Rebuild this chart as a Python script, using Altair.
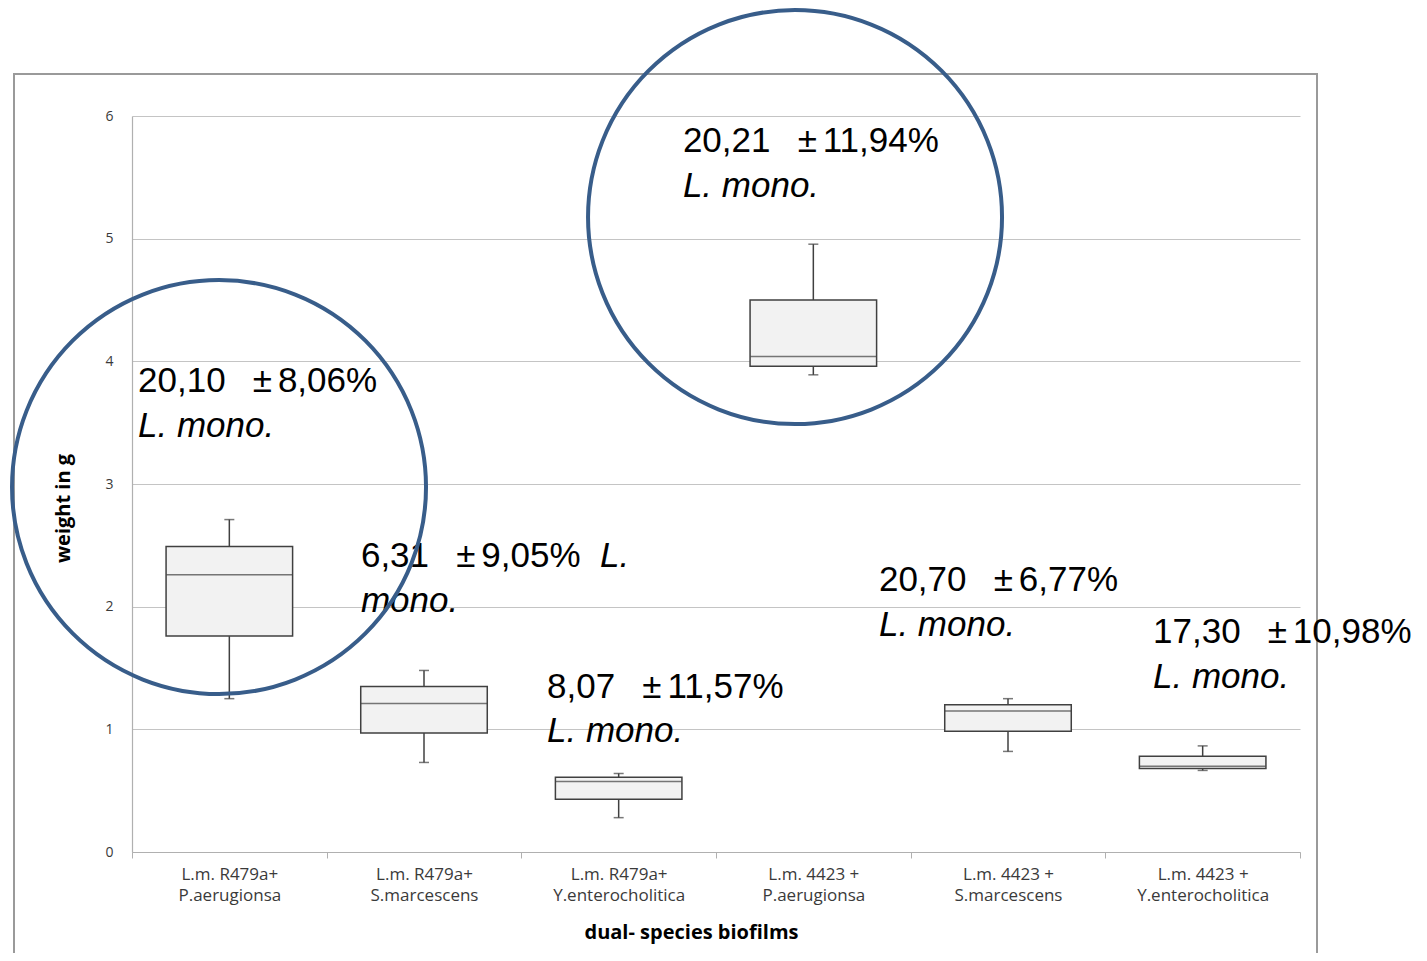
import altair as alt
import pandas as pd

# ---- data ----
categories = [
    "L.m. R479a+\nP.aerugionsa",
    "L.m. R479a+\nS.marcescens",
    "L.m. R479a+\nY.enterocholitica",
    "L.m. 4423 +\nP.aerugionsa",
    "L.m. 4423 +\nS.marcescens",
    "L.m. 4423 +\nY.enterocholitica",
]
whisker_low = [1.25, 0.73, 0.28, 3.89, 0.82, 0.665]
q1 = [1.76, 0.97, 0.43, 3.96, 0.985, 0.68]
median = [2.26, 1.21, 0.575, 4.04, 1.15, 0.70]
q3 = [2.49, 1.35, 0.61, 4.50, 1.20, 0.78]
whisker_high = [2.71, 1.48, 0.64, 4.955, 1.25, 0.865]

PM = "\u00a0\u2002±\u2006"  # wide "±" spacing as in the reference
ann_text = ["20,10" + PM + "8,06%", "L. mono.",
            "6,31" + PM + "9,05%", "L.", "mono.",
            "8,07" + PM + "11,57%", "L. mono.",
            "20,21" + PM + "11,94%", "L. mono.",
            "20,70" + PM + "6,77%", "L. mono.",
            "17,30" + PM + "10,98%", "L. mono."]
ann_x = [0.031, 0.031,
         1.176, 2.404, 1.176,
         2.132, 2.132,
         2.830, 2.830,
         3.837, 3.837,
         5.245, 5.245]
ann_y = [3.84, 3.47,
         2.41, 2.41, 2.05,
         1.345, 0.986,
         5.80, 5.43,
         2.217, 1.85,
         1.79, 1.43]
ann_style = ["normal", "italic",
             "normal", "italic", "italic",
             "normal", "italic",
             "normal", "italic",
             "normal", "italic",
             "normal", "italic"]

circle_x = [0.447, 3.406]
circle_y = [2.975, 5.176]

box_df = pd.DataFrame({"cat": categories, "lo": whisker_low, "q1": q1,
                       "med": median, "q3": q3, "hi": whisker_high})
ann_df = pd.DataFrame({"text": ann_text, "x": ann_x, "y": ann_y, "style": ann_style})
circ_df = pd.DataFrame({"x": circle_x, "y": circle_y})

W, H = 1168, 736
LABEL_FONT = "Open Sans"
DARK = "#404040"

y_scale = alt.Scale(domain=[0, 6], nice=False, zero=True)
y_axis = alt.Axis(
    title="weight in g", values=[0, 1, 2, 3, 4, 5, 6], grid=True,
    gridColor="#c4c4c4", gridWidth=1, ticks=False,
    domainColor="#b0b0b0", domainWidth=1.2,
    labelFont=LABEL_FONT, labelFontSize=14, labelColor="#3a3a3a", labelPadding=19,
    titleFont=LABEL_FONT, titleFontSize=20, titleFontWeight="bold", titleColor="#000000",
    titleAngle=270, titleX=-69, titleY=392, titleAlign="center", titleBaseline="middle",
)


def Y(field):
    return alt.Y(field, type="quantitative", scale=y_scale, axis=y_axis)


x_axis = alt.Axis(
    title="dual- species biofilms", labelExpr="split(datum.label, '\\n')",
    labelAngle=0, tickBand="extent", ticks=True, tickSize=6, tickColor="#b0b0b0",
    domainColor="#b0b0b0", domainWidth=1.2, grid=False,
    labelFont=LABEL_FONT, labelFontSize=17, labelColor="#3a3a3a", labelPadding=8,
    labelLineHeight=21, labelBaseline="top",
    titleFont=LABEL_FONT, titleFontSize=20, titleFontWeight="bold", titleColor="#000000",
    titleX=559, titleY=80, titleAlign="center", titleBaseline="middle",
)
x_band = alt.X("cat:N", sort=categories,
               scale=alt.Scale(paddingInner=0, paddingOuter=0), axis=x_axis)

base = alt.Chart(box_df)
whisk_hi = base.mark_rule(color=DARK, strokeWidth=1.5).encode(x=x_band, y=Y("q3"), y2="hi")
whisk_lo = base.mark_rule(color=DARK, strokeWidth=1.5).encode(x=x_band, y=Y("lo"), y2="q1")
cap_hi = base.mark_tick(color=DARK, size=10, thickness=1.5).encode(x=x_band, y=Y("hi"))
cap_lo = base.mark_tick(color=DARK, size=10, thickness=1.5).encode(x=x_band, y=Y("lo"))
boxes = base.mark_bar(width=alt.RelativeBandSize(0.65), fill="#f2f2f2",
                      stroke=DARK, strokeWidth=1.5).encode(x=x_band, y=Y("q1"), y2="q3")
meds = base.mark_tick(color=DARK, size=126, thickness=1.5).encode(x=x_band, y=Y("med"))

box_group = alt.layer(whisk_hi, whisk_lo, cap_hi, cap_lo, boxes, meds)

xq = alt.X("x:Q", scale=alt.Scale(domain=[0, 6], nice=False, zero=False), axis=None)

ann_normal = alt.Chart(ann_df).transform_filter("datum.style == 'normal'").mark_text(
    align="left", baseline="middle", font="Liberation Sans", fontSize=35, color="#000000"
).encode(x=xq, y=Y("y"), text="text:N")
ann_italic = alt.Chart(ann_df).transform_filter("datum.style == 'italic'").mark_text(
    align="left", baseline="middle", font="Liberation Sans", fontSize=35,
    fontStyle="italic", color="#000000"
).encode(x=xq, y=Y("y"), text="text:N")

circles = alt.Chart(circ_df).mark_point(
    shape="circle", size=171396, filled=False, stroke="#385D8A", strokeWidth=4, opacity=1
).encode(x=xq, y=Y("y"))

frame = alt.Chart(circ_df).mark_rect(
    fill=None, stroke="#9a9a9a", strokeWidth=2
).encode(x=alt.value(-118), x2=alt.value(1185), y=alt.value(-42), y2=alt.value(880))

chart = alt.layer(frame, box_group, ann_normal, ann_italic, circles).resolve_scale(
    x="independent"
).properties(
    width=W, height=H,
    autosize=alt.AutoSizeParams(type="none"),
    padding={"left": 124, "top": 108, "right": 119, "bottom": 101},
).configure_view(stroke=None)

chart.save("out.html", embed_options={"renderer": "svg", "actions": False})
